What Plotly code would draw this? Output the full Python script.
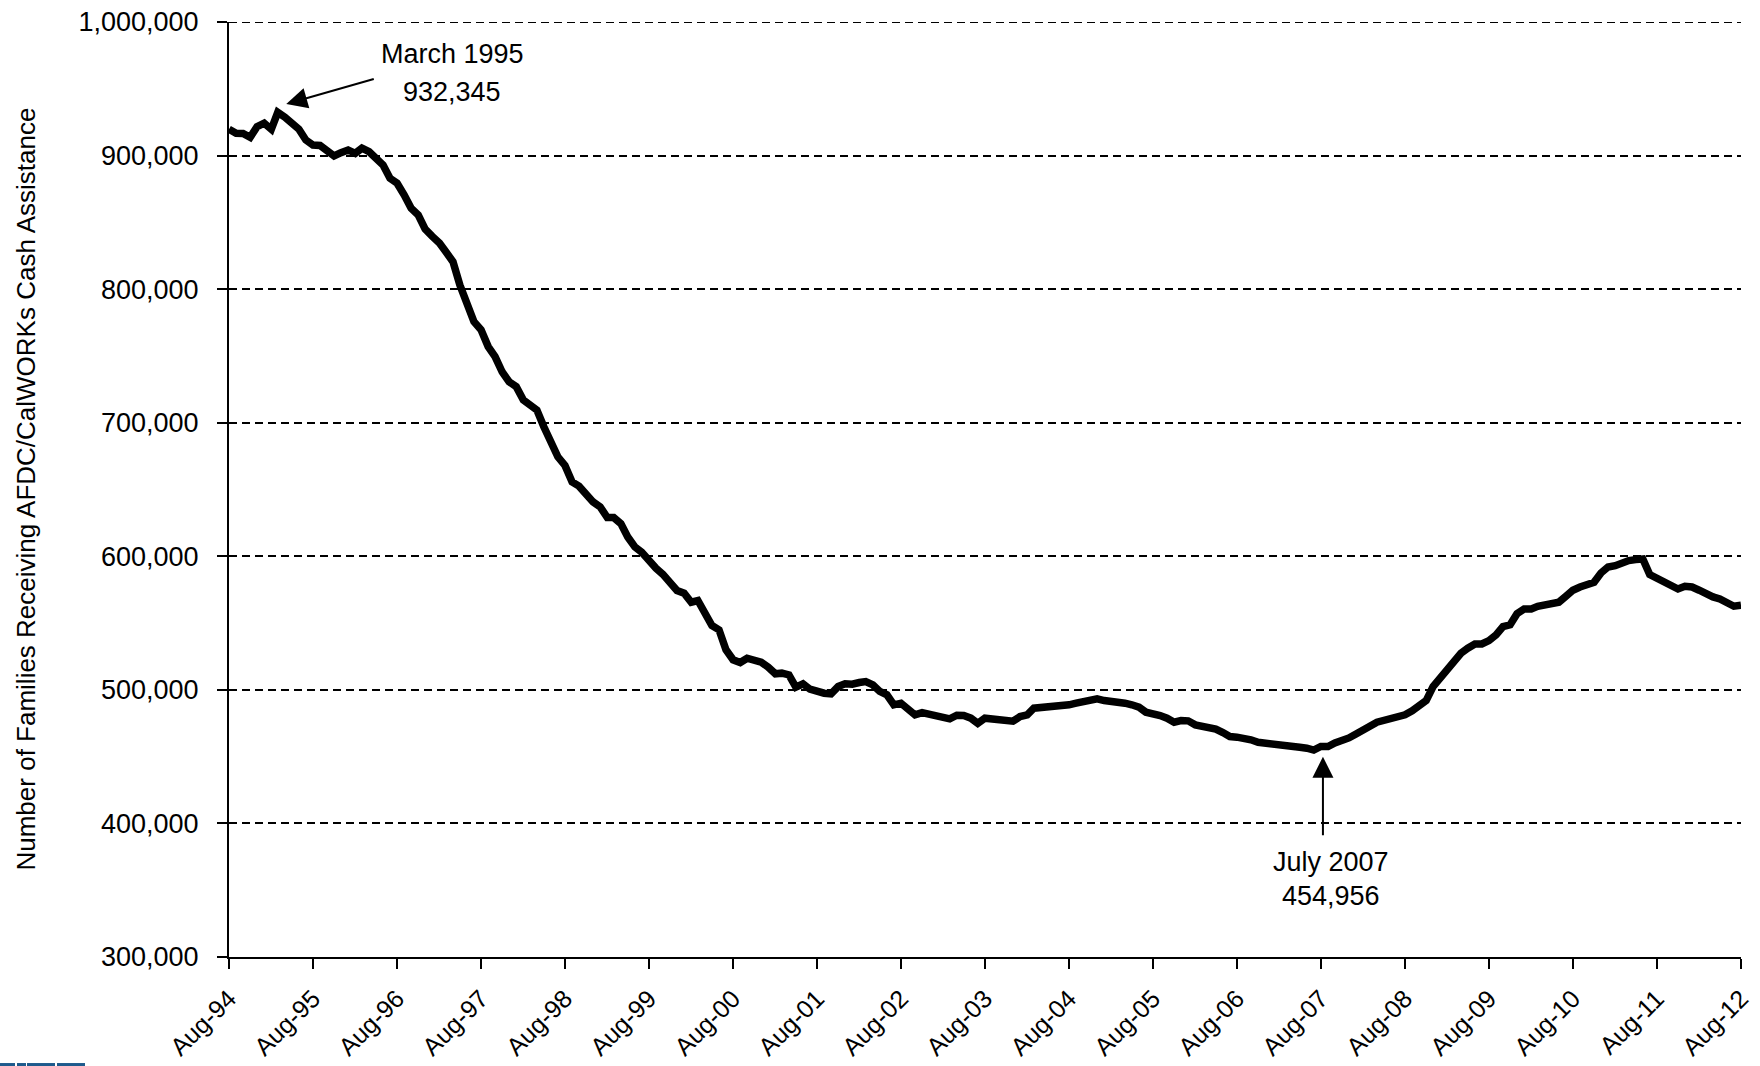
import pandas as pd
import plotly.graph_objects as go

# monthly caseload, Aug-94 .. Aug-12 (one row per Aug..Jul year)
caseload = [
    919700, 916700, 916500, 913700, 921600, 924200, 919700, 932345, 928700, 924200, 919700, 911700,
    907900, 907600, 904200, 899700, 902200, 904200, 901700, 905500, 902900, 898700, 893000, 883000,
    879300, 870500, 860500, 855500, 845000, 839500, 834500, 828000, 820500, 803000, 787000, 775700,
    769500, 757000, 749500, 738000, 730700, 727000, 717000, 714000, 709500, 697000, 687000, 674500,
    668000, 655700, 652500, 645700, 640700, 637000, 629000, 629000, 624500, 614500, 607000, 603000,
    596500, 591000, 586500, 579500, 574400, 572400, 565600, 566900, 558600, 548200, 544900, 530000,
    522500, 520500, 523700, 522500, 520700, 517000, 512000, 512500, 511200, 502000, 504500, 500500,
    498800, 497500, 497000, 502500, 504500, 504200, 505500, 506200, 503700, 498800, 496300, 488800,
    490000, 485500, 481300, 483000, 482000, 480500, 480500, 478300, 481000, 480800, 478800, 475000,
    478800, 478000, 476800, 476300, 476500, 480000, 481300, 486300, 486800, 486500, 486800, 488300,
    488800, 490000, 491300, 491300, 493300, 492000, 491300, 491800, 490000, 488800, 487000, 483300,
    482500, 480800, 478800, 475800, 477000, 476800, 473800, 473000, 472000, 470600, 468000, 465000,
    464600, 463800, 462600, 460800, 460000, 460000, 458000, 457600, 457300, 457000, 456300, 454956,
    457600, 457600, 460300, 461900, 464000, 467000, 469400, 472800, 475800, 477000, 477500, 478800,
    481300, 484300, 488300, 492000, 502500, 508700, 514500, 521700, 527400, 531200, 534400, 534400,
    536900, 541200, 547400, 548700, 557000, 560600, 560600, 562500, 563300, 564600, 565600, 570000,
    574600, 577000, 578500, 580500, 587500, 592000, 593000, 595500, 596800, 597500, 598000, 586300,
    583300, 581300, 578800, 575500, 577500, 577000, 574600, 571800, 569600, 568000, 565600, 562600,
    563300,
]
months = pd.date_range("1994-08-01", periods=len(caseload), freq="MS")

tick_dates = pd.date_range("1994-08-01", "2012-08-01", freq="12MS")
tick_labels = [d.strftime("%b-%y") for d in tick_dates]

FONT = "Liberation Sans, Arial, sans-serif"

fig = go.Figure()
fig.add_trace(go.Scatter(x=months, y=caseload, mode="lines",
                         line=dict(color="black", width=7.5), hoverinfo="x+y"))


def label(x, y, text):
    return dict(x=x, y=y, text=text, showarrow=False, xanchor="center", yanchor="middle",
                font=dict(size=27))


annos = [
    # callout texts, one line each so the spacing can follow the original
    label("1997-03-28", 976000, "March 1995"),
    label("1997-03-28", 947600, "932,345"),
    label("2007-09-15", 371300, "July 2007"),
    label("2007-09-15", 345400, "454,956"),
    # arrows
    dict(x="1995-04-07", y=938600, ax="1996-04-28", ay=957600, axref="x", ayref="y",
         text="", showarrow=True, arrowhead=2, arrowsize=2.1, arrowwidth=2, arrowcolor="black"),
    dict(x="2007-08-10", y=449900, ax="2007-08-10", ay=390000, axref="x", ayref="y",
         text="", showarrow=True, arrowhead=2, arrowsize=2.1, arrowwidth=2, arrowcolor="black"),
    # y axis title
    dict(xref="paper", yref="paper", x=-0.1349, y=0.5, xanchor="center", yanchor="middle",
         textangle=-90, showarrow=False,
         text="Number of Families Receiving AFDC/CalWORKs Cash Assistance",
         font=dict(size=26)),
]

# dashed line at the top tick (plotly skips the grid at the range edge)
shapes = [dict(type="line", xref="paper", yref="y", x0=0, x1=1, y0=1000000, y1=1000000,
               line=dict(color="black", width=1.8, dash="8px,5px"))]

# bit of the blue logo cut off at the bottom-left corner
for x0, x1 in [(0, 15), (17, 26), (27, 55), (57, 85)]:
    shapes.append(dict(type="rect", xref="paper", yref="paper",
                       x0=(x0 - 229) / 1512, x1=(x1 - 229) / 1512, y0=-0.1134, y1=-0.12,
                       line=dict(width=0), fillcolor="#1d5a8c"))

fig.update_layout(
    width=1760, height=1066,
    margin=dict(l=229, r=19, t=22, b=109, pad=0),
    plot_bgcolor="white", paper_bgcolor="white",
    font=dict(family=FONT, color="black", size=26),
    showlegend=False,
    annotations=annos,
    shapes=shapes,
    xaxis=dict(type="date", range=["1994-08-01", "2012-08-01"],
               tickvals=tick_dates, ticktext=tick_labels, tickangle=-45,
               tickfont=dict(size=25), ticks="outside", ticklen=10, tickwidth=2,
               tickcolor="black", ticklabelstandoff=5,
               showline=True, linecolor="black", linewidth=2,
               showgrid=False, zeroline=False, automargin=False),
    yaxis=dict(range=[300000, 1000000], dtick=100000, tickformat=",d",
               tickfont=dict(size=27), ticks="outside", ticklen=10, tickwidth=2,
               tickcolor="black", ticklabelstandoff=13,
               showline=True, linecolor="black", linewidth=2,
               showgrid=True, gridcolor="black", gridwidth=1.8, griddash="8px,5px",
               zeroline=False, automargin=False),
)

# the page body has an 8px default margin; drop it so the figure sits at 0,0
fig.write_html("out.html", config={"displayModeBar": False},
               post_script="document.body.style.margin='0';document.body.style.overflow='hidden';")
